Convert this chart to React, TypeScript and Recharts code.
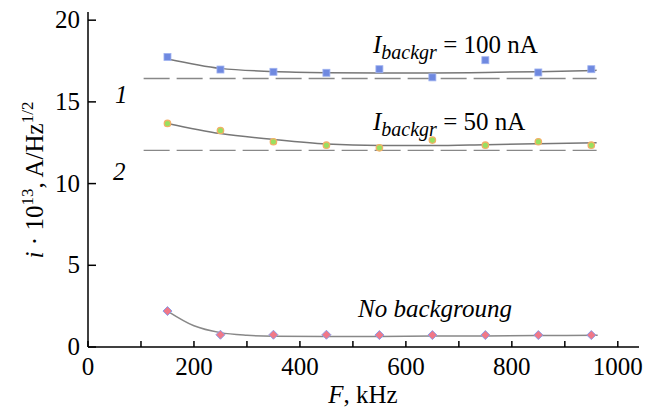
import { ComposedChart, Line, Scatter, XAxis, YAxis } from 'recharts';

const freqs = [150, 250, 350, 450, 550, 650, 750, 850, 950];
const pts100 = [17.75, 16.98, 16.84, 16.78, 17.0, 16.5, 17.55, 16.8, 17.0];
const pts50 = [13.68, 13.25, 12.56, 12.35, 12.19, 12.66, 12.35, 12.56, 12.35];
const pts0 = [2.2, 0.75, 0.75, 0.75, 0.73, 0.73, 0.73, 0.73, 0.73];

const fitFreqs = [150, 250, 350, 450, 550, 650, 750, 850, 960];
const fit100 = [17.63, 17.05, 16.86, 16.79, 16.77, 16.77, 16.8, 16.85, 16.93];
const fit50 = [13.68, 13.06, 12.7, 12.42, 12.33, 12.33, 12.38, 12.44, 12.5];
const fit0Freqs = [150, 200, 250, 300, 350, 450, 550, 650, 750, 850, 962];
const fit0 = [2.2, 1.3, 0.88, 0.72, 0.66, 0.64, 0.65, 0.67, 0.68, 0.7, 0.72];

const dashFreqs = [105, 960];
const level1 = 16.43;
const level2 = 12.03;

const xTicks = [0, 100, 200, 300, 400, 500, 600, 700, 800, 900, 1000];
const yTicks = [0, 5, 10, 15, 20];

const zip = (xs: number[], ys: number[]) => xs.map((f, i) => ({ f, v: ys[i] }));
const flat = (xs: number[], v: number) => xs.map(f => ({ f, v }));

const serif = { fontFamily: "'Liberation Serif', 'DejaVu Serif', serif" };

function XTick({ x, y, payload }: any) {
  const v = payload.value;
  return (
    <g>
      <line x1={x} x2={x} y1={y} y2={y - 6} stroke="#000" strokeWidth={1.5} />
      {v % 200 === 0 && (
        <text x={x} y={y + 28} textAnchor="middle" fontSize={25} style={serif} fill="#000">
          {v}
        </text>
      )}
    </g>
  );
}

function YTick({ x, y, payload }: any) {
  return (
    <g>
      <line x1={x} x2={x + 8} y1={y} y2={y} stroke="#000" strokeWidth={1.5} />
      <text x={x - 8} y={y + 8} textAnchor="end" fontSize={25} style={serif} fill="#000">
        {payload.value}
      </text>
    </g>
  );
}

const Square = ({ cx, cy }: any) => (
  <rect x={cx - 3.5} y={cy - 3.5} width={7} height={7} fill="#6f89e0" stroke="#9fb2f0" strokeWidth={0.8} />
);
const Dot = ({ cx, cy }: any) => (
  <circle cx={cx} cy={cy} r={3.2} fill="#98e060" stroke="#f2b066" strokeWidth={1.3} />
);
const Diamond = ({ cx, cy }: any) => (
  <path d={`M${cx},${cy - 4.5}L${cx + 4.5},${cy}L${cx},${cy + 4.5}L${cx - 4.5},${cy}Z`} fill="#f07888" stroke="#8c9ce8" strokeWidth={1} />
);

export default function App() {
  return (
    <div style={{ position: 'absolute', left: 0, top: 0, width: 653, height: 408, background: '#fff' }}>
      <ComposedChart width={653} height={408} margin={{ top: 12, right: 14, bottom: 0, left: 28 }}>
        <XAxis
          type="number"
          dataKey="f"
          domain={[0, 1040]}
          ticks={xTicks}
          allowDataOverflow
          height={61}
          tickSize={0}
          tickMargin={0}
          tickLine={false}
          tick={<XTick />}
          axisLine={{ stroke: '#000', strokeWidth: 1.5 }}
        />
        <YAxis
          type="number"
          dataKey="v"
          domain={[0, 20.5]}
          ticks={yTicks}
          allowDataOverflow
          width={60}
          tickSize={0}
          tickMargin={0}
          tickLine={false}
          tick={<YTick />}
          axisLine={{ stroke: '#000', strokeWidth: 1.5 }}
        />
        <Line data={flat(dashFreqs, level1)} dataKey="v" stroke="#888" strokeWidth={1.3} strokeDasharray="26 7" dot={false} isAnimationActive={false} />
        <Line data={flat(dashFreqs, level2)} dataKey="v" stroke="#888" strokeWidth={1.3} strokeDasharray="26 7" dot={false} isAnimationActive={false} />
        <Line data={zip(fitFreqs, fit100)} dataKey="v" type="monotone" stroke="#777" strokeWidth={1.5} dot={false} isAnimationActive={false} />
        <Line data={zip(fitFreqs, fit50)} dataKey="v" type="monotone" stroke="#777" strokeWidth={1.5} dot={false} isAnimationActive={false} />
        <Line data={zip(fit0Freqs, fit0)} dataKey="v" type="monotone" stroke="#888" strokeWidth={1.5} dot={false} isAnimationActive={false} />
        <Scatter data={zip(freqs, pts100)} dataKey="v" shape={<Square />} isAnimationActive={false} />
        <Scatter data={zip(freqs, pts50)} dataKey="v" shape={<Dot />} isAnimationActive={false} />
        <Scatter data={zip(freqs, pts0)} dataKey="v" shape={<Diamond />} isAnimationActive={false} />
      </ComposedChart>
      <svg width={653} height={408} style={{ position: 'absolute', left: 0, top: 0, pointerEvents: 'none', ...serif }} fill="#000">
        <text x={373} y={53} fontSize={25}>
          <tspan fontStyle="italic">I</tspan>
          <tspan fontStyle="italic" fontSize={20} dy={6}>backgr</tspan>
          <tspan dy={-6}> = 100 nA</tspan>
        </text>
        <text x={373} y={130} fontSize={25}>
          <tspan fontStyle="italic">I</tspan>
          <tspan fontStyle="italic" fontSize={20} dy={6}>backgr</tspan>
          <tspan dy={-6}> = 50 nA</tspan>
        </text>
        <text x={358} y={317} fontSize={25} fontStyle="italic">No backgroung</text>
        <text x={115} y={103} fontSize={25} fontStyle="italic">1</text>
        <text x={113} y={180} fontSize={25} fontStyle="italic">2</text>
        <text x={363} y={403} fontSize={25} textAnchor="middle">
          <tspan fontStyle="italic">F</tspan>, kHz
        </text>
        <text transform="translate(43,180) rotate(-90)" fontSize={25} textAnchor="middle">
          <tspan fontStyle="italic">i</tspan>
          <tspan> · 10</tspan>
          <tspan fontSize={17} dy={-10}>13</tspan>
          <tspan dy={10}>, A/Hz</tspan>
          <tspan fontSize={17} dy={-10}>1/2</tspan>
        </text>
      </svg>
    </div>
  );
}
